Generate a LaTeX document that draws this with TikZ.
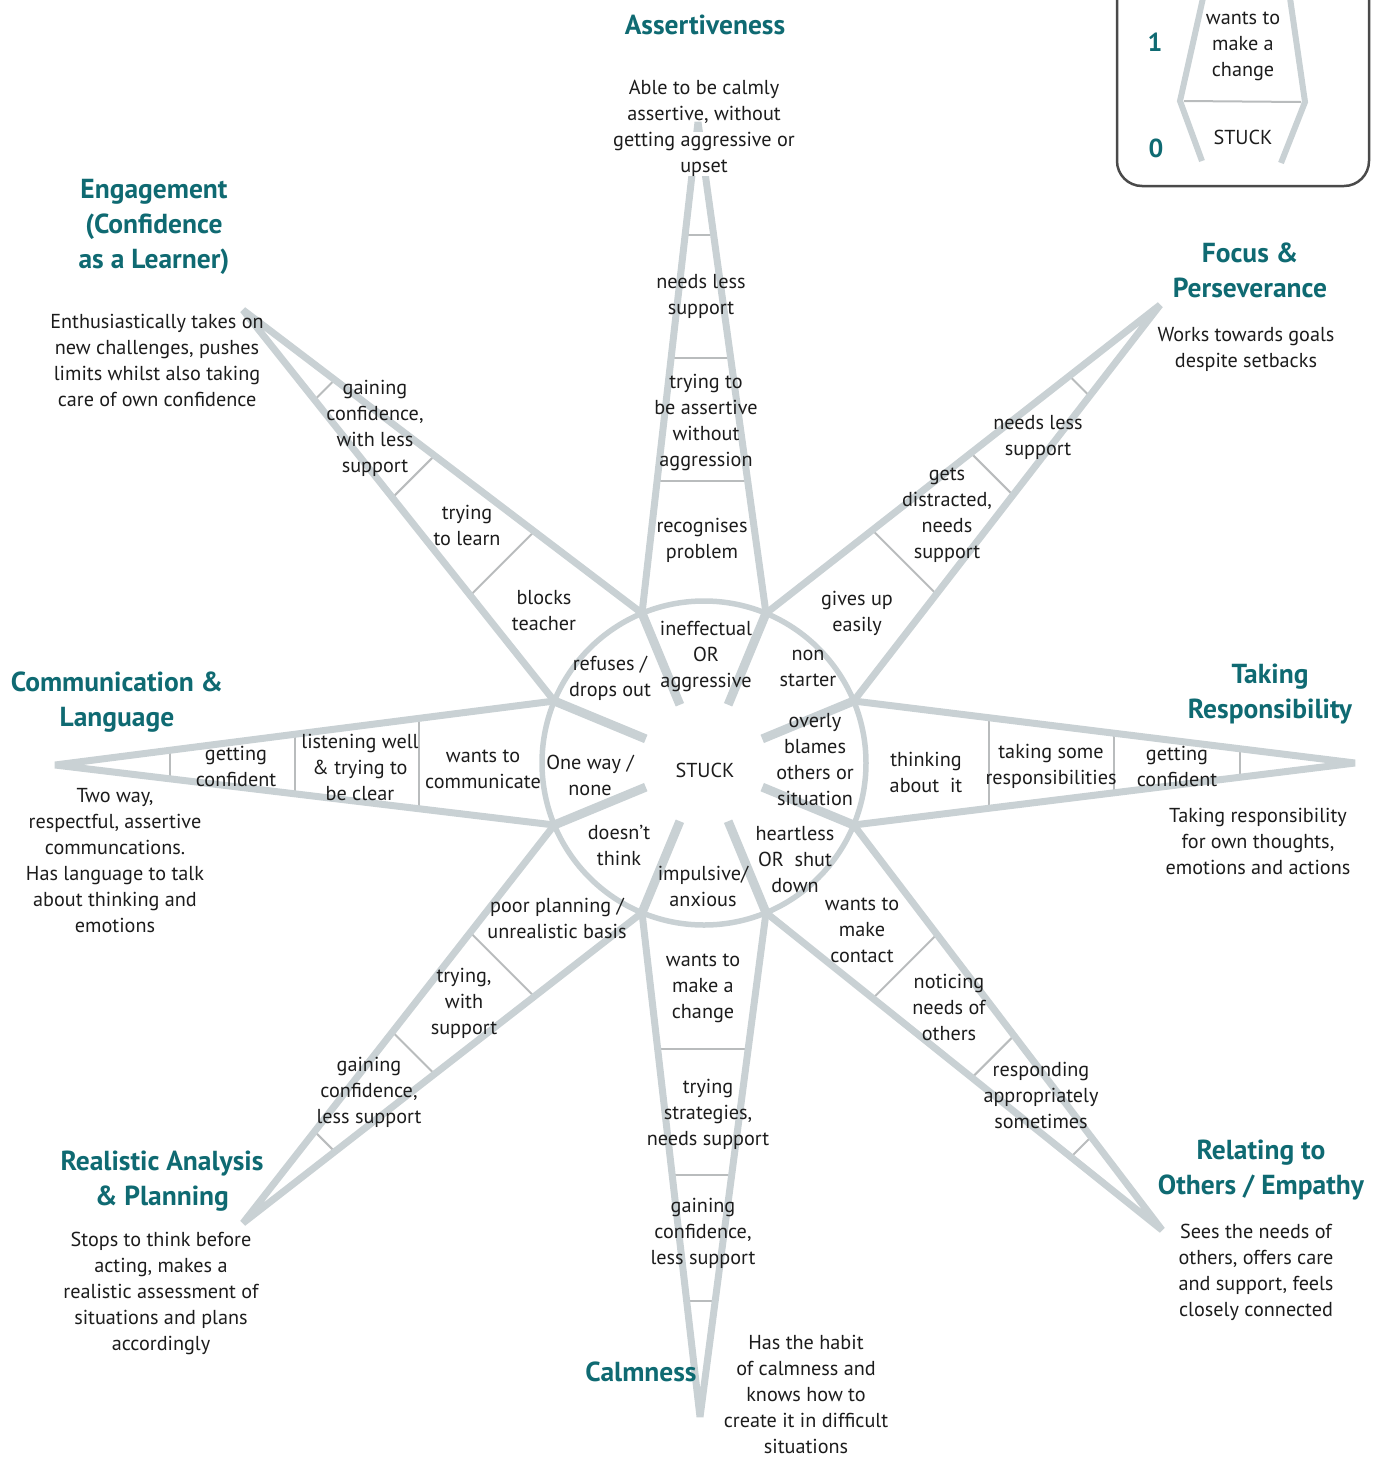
\documentclass[tikz,border=0pt]{standalone}
\usepackage{fontspec}
\setmainfont{PT Sans}
\usetikzlibrary{calc}
\definecolor{spokegray}{HTML}{C9D1D4}
\definecolor{runggray}{HTML}{B9BCBD}
\definecolor{titleteal}{HTML}{0F6A72}
\definecolor{inkblack}{HTML}{1C1C1C}
\definecolor{framegray}{HTML}{4A4A4A}
\tikzset{
  edgeline/.style={draw=spokegray, line width=7pt, line join=bevel},
  stubline/.style={draw=spokegray, line width=9pt},
  rungline/.style={draw=runggray, line width=2pt},
  ringline/.style={draw=spokegray, line width=5.5pt},
  lvl/.style={align=center, inner sep=0pt, text=inkblack, font=\fontsize{20.2}{26}\selectfont},
  desc/.style={lvl},
  ttlbox/.style={align=center, inner sep=0pt, text=titleteal, font=\bfseries\fontsize{27.5}{35}\selectfont},
  digit/.style={inner sep=0pt, text=titleteal, font=\bfseries\fontsize{26}{30}\selectfont},
}
\begin{document}
\begin{tikzpicture}[x=1pt,y=-1pt]
\useasboundingbox (0,0) rectangle (1383,1457);
% centre and vertices on the ring
\coordinate (C) at (704,763);
\coordinate (V1) at (853.7,701.0);
\coordinate (V2) at (766.0,613.3);
\coordinate (V3) at (642.0,613.3);
\coordinate (V4) at (554.3,701.0);
\coordinate (V5) at (554.3,825.0);
\coordinate (V6) at (642.0,912.7);
\coordinate (V7) at (766.0,912.7);
\coordinate (V8) at (853.7,825.0);
% tips
\coordinate (Tr) at (1355,763);
\coordinate (Ttr) at (1160,305);
\coordinate (Tt) at (698,122);
\coordinate (Ttl) at (243,310);
\coordinate (Tl) at (55,765);
\coordinate (Tbl) at (243,1223);
\coordinate (Tb) at (700,1417);
\coordinate (Tbr) at (1162,1230);

% rungs
\foreach \a/\b/\t in {V8/V1/Tr, V1/V2/Ttr, V2/V3/Tt, V3/V4/Ttl, V4/V5/Tl, V5/V6/Tbl, V6/V7/Tb, V7/V8/Tbr}{
  \foreach \s in {0.27,0.52,0.77}{
    \draw[rungline] ($(\a)!\s!(\t)$) -- ($(\b)!\s!(\t)$);
  }
}
% spoke edges
\foreach \a/\b/\t in {V8/V1/Tr, V1/V2/Ttr, V2/V3/Tt, V3/V4/Ttl, V4/V5/Tl, V5/V6/Tbl, V6/V7/Tb, V7/V8/Tbr}{
  \draw[edgeline] (\a) -- (\t) -- (\b);
}
% ring
\draw[ringline] (C) circle[radius=162];
% inner stubs
\foreach \v in {V1,V2,V3,V4,V5,V6,V7,V8}{
  \draw[stubline] (\v) -- ($(C)!0.389!(\v)$);
}

% centre
\node[lvl] (stuck) at (705,770) {STUCK};

% top spoke
\node[lvl] (t3) at (701,296) {needs less\\support};
\node[lvl] (t2) at (706,422) {trying to\\be assertive\\without\\aggression};
\node[lvl] (t1) at (702,540) {recognises\\problem};
\node[lvl] (t0) at (706,656) {ineffectual\\OR\\aggressive};
% top-left spoke
\node[lvl] (tl3) at (375,428) {gaining\\confidence,\\with less\\support};
\node[lvl] (tl2) at (467,525) {trying\\to learn};
\node[lvl] (tl1) at (544,611) {blocks\\teacher};
\node[lvl] (tl0) at (610,678) {refuses /\\drops out};
% top-right spoke
\node[lvl] (tr3) at (1038,437) {needs less\\support};
\node[lvl] (tr2) at (947,515) {gets\\distracted,\\needs\\support};
\node[lvl] (tr1) at (857,613) {gives up\\easily};
\node[lvl] (tr0) at (808,668) {non\\starter};
% right spoke
\node[lvl] (r1) at (926,772) {thinking\\about\ \ it};
\node[lvl] (r2) at (1051,766) {taking some\\responsibilities};
\node[lvl] (r3) at (1177,766) {getting\\confident};
\node[lvl] (r0) at (815,760) {overly\\blames\\others or\\situation};
% bottom-right spoke
\node[lvl] (br1) at (862,930) {wants to\\make\\contact};
\node[lvl] (br2) at (949,1007) {noticing\\needs of\\others};
\node[lvl] (br3) at (1041,1095) {responding\\appropriately\\sometimes};
\node[lvl] (br0) at (795,860) {heartless\\OR\ \ shut\\down};
% bottom spoke
\node[lvl] (b1) at (703,988) {wants to\\make a\\change};
\node[lvl] (b2) at (708,1114) {trying\\strategies,\\needs support};
\node[lvl] (b3) at (703,1233) {gaining\\confidence,\\less support};
\node[lvl] (b0) at (703,886) {impulsive/\\anxious};
% bottom-left spoke
\node[lvl] (bl1) at (557,918) {poor planning /\\unrealistic basis};
\node[lvl] (bl2) at (464,1003) {trying,\\with\\support};
\node[lvl] (bl3) at (369,1092) {gaining\\confidence,\\less support};
\node[lvl] (bl0) at (619,845) {doesn’t\\think};
% left spoke
\node[lvl] (l1) at (483,769) {wants to\\communicate};
\node[lvl] (l2) at (360,767) {listening well\\\& trying to\\be clear};
\node[lvl] (l3) at (236,766) {getting\\confident};
\node[lvl] (l0) at (590,775) {One way /\\none};

% descriptions
\node[desc] (dta) at (704,102) {Able to be calmly\\assertive, without};
\node[desc, fill=white] (dtb) at (704,154) {getting aggressive or\\upset};
\node[desc] (dtl) at (157,360) {Enthusiastically takes on\\new challenges, pushes\\limits whilst also taking\\care of own confidence};
\node[desc] (dtr) at (1246,349) {Works towards goals\\despite setbacks};
\node[desc] (dr) at (1258,841) {Taking responsibility\\for own thoughts,\\emotions and actions};
\node[desc] (dl) at (115,861) {Two way,\\respectful, assertive\\communcations.\\Has language to talk\\about thinking and\\emotions};
\node[desc] (dbr) at (1256,1272) {Sees the needs of\\others, offers care\\and support, feels\\closely connected};
\node[desc] (dbl) at (161,1293) {Stops to think before\\acting, makes a\\realistic assessment of\\situations and plans\\accordingly};
\node[desc] (db) at (806,1394) {Has the habit\\of calmness and\\knows how to\\create it in difficult\\situations};

% titles
\node[ttlbox] (httop) at (705,25) {Assertiveness};
\node[ttlbox] (httl) at (154,227) {Engagement\\(Confidence\\as a Learner)};
\node[ttlbox] (httr) at (1250,270) {Focus \&\\Perseverance};
\node[ttlbox] (htr) at (1270,694) {Taking\\Responsibility};
\node[ttlbox] (htl) at (117,702) {Communication \&\\Language};
\node[ttlbox] (htbr) at (1261,1170) {Relating to\\Others / Empathy};
\node[ttlbox] (htbl) at (162,1181) {Realistic Analysis\\\& Planning};
\node[ttlbox] (htb) at (641,1372) {Calmness};

% legend
\draw[draw=framegray, line width=2.5pt, rounded corners=25pt] (1117,-40) rectangle (1369,186);
\coordinate (La) at (1203,-2);
\coordinate (Lb) at (1180,101);
\coordinate (Lc) at (1202,161);
\coordinate (Ld) at (1290,-2);
\coordinate (Le) at (1305,102);
\coordinate (Lf) at (1281,163);
\draw[rungline] ($(Lb)+(4,0)$) -- ($(Le)+(-4,0)$);
\draw[edgeline, line width=6pt, line join=miter] (La) -- (Lb) -- (Lc);
\draw[edgeline, line width=6pt, line join=miter] (Ld) -- (Le) -- (Lf);
\node[digit] (lg1) at (1155,42) {1};
\node[digit] (lg0) at (1156,148) {0};
\node[lvl] (lgw) at (1243,46) {wants to\\make a\\change};
\node[lvl] (lgs) at (1243,137) {STUCK};
\end{tikzpicture}
\end{document}
